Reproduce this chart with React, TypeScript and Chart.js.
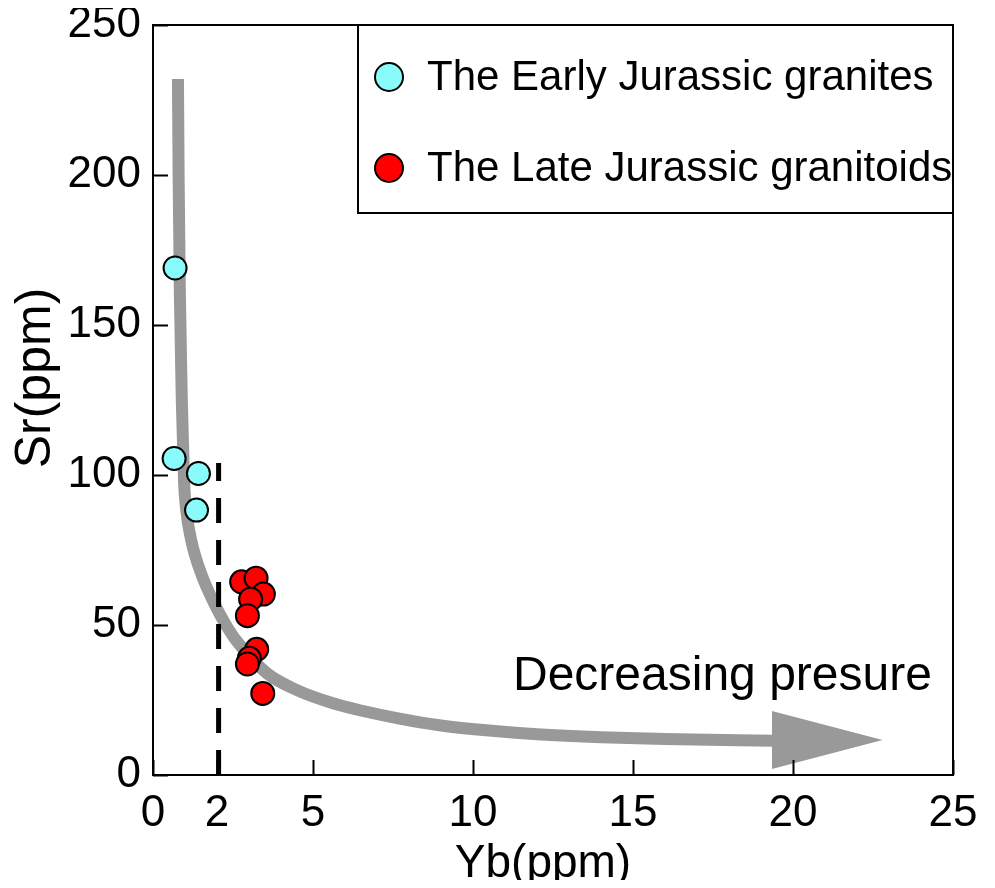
import React, { useEffect, useRef } from "react";
import { Chart, registerables } from "chart.js";

Chart.register(...registerables);

// ---- data ----
const earlyYb = [0.66, 1.42, 1.36, 0.69];
const earlySr = [105.5, 100.5, 88.3, 169];

const lateYb = [2.77, 3.22, 3.45, 3.05, 2.95, 3.24, 3.01, 2.95, 3.43];
const lateSr = [64.4, 65.6, 60.3, 58.6, 53.1, 41.9, 38.9, 37.0, 27.2];

// trend curve (decreasing pressure)
const curveYb = [0.78, 0.8, 0.84, 0.9, 0.97, 1.03, 1.2, 1.51, 1.97, 2.28, 2.59, 3.55, 4.5, 5.6, 6.5, 7.7, 9.0, 10.5, 12.0, 14.0, 16.0, 19.4];
const curveSr = [232, 200, 160, 125, 98, 89, 78, 67, 56, 50, 45, 34, 28.3, 24, 21.5, 18.8, 16.5, 14.8, 13.6, 12.6, 12.0, 11.4];

// arrow head edges
const arrowUpperYb = [19.34, 22.8];
const arrowUpperSr = [21.3, 11.7];
const arrowLowerYb = [19.34, 22.8];
const arrowLowerSr = [2.0, 11.7];

// dashed reference line at Yb = 2
const dashYb = [2.05, 2.05];
const dashSr = [0, 104];

const xTicks = [0, 2, 5, 10, 15, 20, 25];
const yTicks = [0, 50, 100, 150, 200, 250];

const seriesNames = ["The Early Jurassic granites", "The Late Jurassic granitoids"];
const arrowText = "Decreasing presure";
const xTitle = "Yb(ppm)";
const yTitle = "Sr(ppm)";

const FONT = 'Arial, "Liberation Sans", sans-serif';
const GRAY = "#999999";
const CYAN = "#8AFBFB";
const RED = "#FF0000";

const zip = (xs: number[], ys: number[]) => xs.map((x, i) => ({ x, y: ys[i] }));

const overlayPlugin = {
  id: "overlay",
  afterDraw(chart: any) {
    const { ctx, chartArea: ca, scales } = chart;
    const xs = scales.x;
    const ys = scales.y;
    ctx.save();
    // frame
    ctx.strokeStyle = "#000";
    ctx.lineWidth = 2;
    ctx.strokeRect(ca.left, ca.top, ca.right - ca.left, ca.bottom - ca.top);
    // inward ticks
    ctx.beginPath();
    xTicks.forEach((v) => {
      const px = Math.round(xs.getPixelForValue(v)) + 0.5;
      ctx.moveTo(px, ca.bottom);
      ctx.lineTo(px, ca.bottom - 15);
    });
    yTicks.forEach((v) => {
      const py = Math.round(ys.getPixelForValue(v)) + 0.5;
      ctx.moveTo(ca.left, py);
      ctx.lineTo(ca.left + 15, py);
    });
    ctx.stroke();

    // axis titles
    ctx.fillStyle = "#000";
    ctx.font = `46px ${FONT}`;
    ctx.textAlign = "center";
    ctx.textBaseline = "alphabetic";
    ctx.fillText(xTitle, (ca.left + ca.right) / 2 - 10, ca.bottom + 102);
    ctx.save();
    ctx.translate(28, (ca.top + ca.bottom) / 2 - 22);
    ctx.rotate(-Math.PI / 2);
    ctx.font = `50px ${FONT}`;
    ctx.textBaseline = "middle";
    ctx.fillText(yTitle, 0, 0);
    ctx.restore();

    // arrow annotation text
    ctx.fillStyle = "#000";
    ctx.font = `48px ${FONT}`;
    ctx.textBaseline = "alphabetic";
    ctx.textAlign = "left";
    ctx.fillText(arrowText, xs.getPixelForValue(11.25), ys.getPixelForValue(28.3));

    // legend box
    const boxW = 595;
    const boxH = 188;
    const bx = ca.right - boxW;
    const by = ca.top;
    ctx.fillStyle = "#fff";
    ctx.fillRect(bx, by, boxW, boxH);
    ctx.strokeStyle = "#000";
    ctx.lineWidth = 2;
    ctx.strokeRect(bx, by, boxW, boxH);
    const rows = [
      { y: by + 52, color: CYAN, label: chart.data.datasets[0].label },
      { y: by + 143, color: RED, label: chart.data.datasets[1].label },
    ];
    rows.forEach((r) => {
      ctx.beginPath();
      ctx.arc(bx + 31, r.y, 14, 0, Math.PI * 2);
      ctx.fillStyle = r.color;
      ctx.fill();
      ctx.lineWidth = 2;
      ctx.strokeStyle = "#000";
      ctx.stroke();
      ctx.fillStyle = "#000";
      ctx.font = `42px ${FONT}`;
      ctx.textBaseline = "middle";
      ctx.textAlign = "left";
      ctx.fillText(r.label, bx + 69, r.y + 1);
    });
    ctx.restore();
  },
};

export default function App() {
  const ref = useRef<HTMLCanvasElement | null>(null);
  useEffect(() => {
    if (!ref.current) return;
    const chart = new Chart(ref.current, {
      type: "scatter",
      data: {
        datasets: [
          {
            label: seriesNames[0],
            data: zip(earlyYb, earlySr),
            backgroundColor: CYAN,
            borderColor: "#000",
            borderWidth: 2,
            pointRadius: 11.5,
            showLine: false,
          },
          {
            label: seriesNames[1],
            data: zip(lateYb, lateSr),
            backgroundColor: RED,
            borderColor: "#000",
            borderWidth: 2,
            pointRadius: 11.5,
            showLine: false,
          },
          {
            label: "dash",
            type: "line",
            data: zip(dashYb, dashSr),
            borderColor: "#000",
            borderWidth: 5,
            borderDash: [25, 17],
            pointRadius: 0,
            fill: false,
          },
          {
            label: "arrowUpper",
            type: "line",
            data: zip(arrowUpperYb, arrowUpperSr),
            borderWidth: 0,
            borderColor: GRAY,
            pointRadius: 0,
            fill: false,
          },
          {
            label: "arrowLower",
            type: "line",
            data: zip(arrowLowerYb, arrowLowerSr),
            borderWidth: 0,
            borderColor: GRAY,
            backgroundColor: GRAY,
            pointRadius: 0,
            fill: "-1",
          },
          {
            label: "curve",
            type: "line",
            data: zip(curveYb, curveSr),
            borderColor: GRAY,
            borderWidth: 12,
            pointRadius: 0,
            cubicInterpolationMode: "monotone",
            borderCapStyle: "butt",
            fill: false,
          },
        ] as any,
      },
      options: {
        animation: false,
        responsive: true,
        maintainAspectRatio: false,
        events: [],
        layout: { padding: { top: 17, right: 34, left: 0, bottom: 0 } },
        plugins: {
          legend: { display: false },
          tooltip: { enabled: false },
          filler: { propagate: false },
        },
        scales: {
          x: {
            type: "linear",
            min: 0,
            max: 25,
            afterBuildTicks: (s: any) => {
              s.ticks = xTicks.map((v) => ({ value: v }));
            },
            afterFit: (s: any) => {
              s.height = 105;
              s.paddingLeft = 0;
              s.paddingRight = 0;
            },
            grid: { display: false, drawTicks: false },
            border: { display: false },
            ticks: {
              color: "#000",
              padding: 12,
              maxRotation: 0,
              autoSkip: false,
              font: { family: FONT, size: 44 },
            },
            title: { display: false },
          },
          y: {
            type: "linear",
            min: 0,
            max: 250,
            afterBuildTicks: (s: any) => {
              s.ticks = yTicks.map((v) => ({ value: v }));
            },
            afterFit: (s: any) => {
              s.width = 145;
              s.paddingTop = 0;
              s.paddingBottom = 0;
            },
            grid: { display: false, drawTicks: false },
            border: { display: false },
            ticks: {
              color: "#000",
              padding: 12,
              font: { family: FONT, size: 44 },
            },
            title: { display: false },
          },
        },
      } as any,
      plugins: [overlayPlugin],
    });
    return () => chart.destroy();
  }, []);
  return (
    <div style={{ width: 979, height: 872, position: "relative" }}>
      <canvas ref={ref} />
    </div>
  );
}
